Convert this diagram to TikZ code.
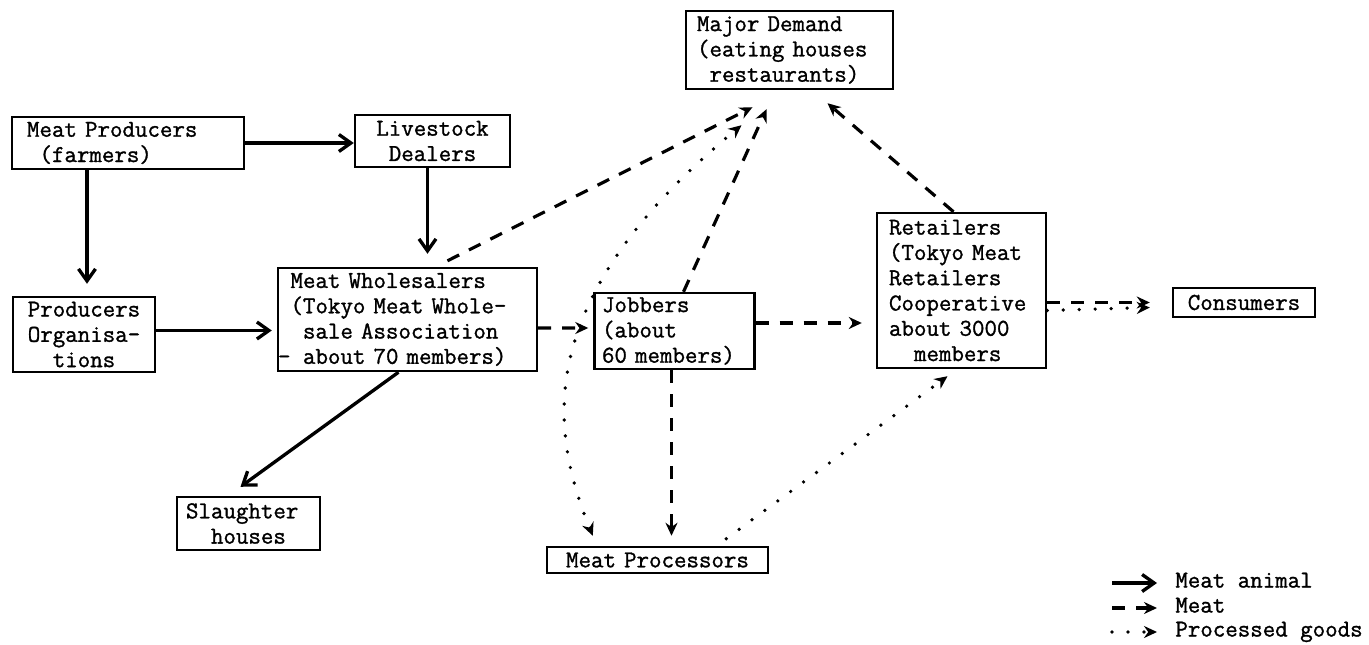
\documentclass[tikz,border=0pt]{standalone}
\usepackage{fontspec}
\setmonofont{Latin Modern Mono}[FakeBold=1.2]
\usetikzlibrary{arrows.meta,calc}

\begin{document}
\begin{tikzpicture}[x=0.02cm,y=-0.02cm,
    box/.style={draw,line width=1.4pt,inner ysep=0.03cm,
      font=\ttfamily\bfseries\fontsize{13.8}{14.4}\selectfont},
    legend/.style={anchor=west,inner xsep=0.1cm,text height=1.6ex,text depth=.4ex,
      font=\ttfamily\bfseries\fontsize{13.8}{14.4}\selectfont},
    gtip/.tip={Stealth[length=0.26cm,width=0.24cm]},
    animal/.style={line width=1.9pt,-{Straight Barb[length=0.24cm,width=0.34cm]}},
    meat/.style={line width=1.8pt,dash pattern=on 0.26cm off 0.22cm,-gtip},
    goods/.style={line width=2.1pt,line cap=round,dash pattern=on 0pt off 0.32cm,-gtip}]
      \useasboundingbox (0,0) rectangle (1369,645);
      \draw
        (128,143) node[box,text width=4.04cm,inner xsep=0.3cm,minimum height=1.04cm,align=left] (prod)
          {Meat Producers\\\phantom{x}(farmers)}
        (432.5,141) node[box,text width=2.5cm,inner xsep=0.3cm,minimum height=1.04cm,align=center] (live)
          {Livestock\\Dealers}
        (84,334.5) node[box,text width=2.4cm,inner xsep=0.22cm,minimum height=1.5cm,align=center] (porg)
          {Producers\\Organisa-\\tions}
        (407.5,319.5) node[box,text width=4.68cm,inner xsep=0.25cm,minimum height=2.06cm,align=left] (whole)
          {Meat Wholesalers\\(Tokyo Meat Whole-\\\phantom{x}sale Association\\\leavevmode\llap{-}\phantom{x}about 70 members)}
        (674.5,331) node[box,text width=2.9cm,inner xsep=0.15cm,minimum height=1.52cm,align=left] (job)
          {Jobbers\\(about\\60 members)}
        (789.5,50) node[box,text width=3.7cm,inner xsep=0.22cm,minimum height=1.56cm,align=left] (major)
          {Major Demand\\(eating houses\\\phantom{x}restaurants)}
        (961.5,290.5) node[box,text width=2.9cm,inner xsep=0.24cm,minimum height=3.1cm,align=left] (retail)
          {Retailers\\(Tokyo Meat\\Retailers\\Cooperative\\about 3000\\\phantom{xx}members}
        (1244,302.5) node[box,text width=2.44cm,inner xsep=0.2cm,minimum height=0.58cm,align=center] (cons)
          {Consumers}
        (248.5,523.5) node[box,text width=2.5cm,inner xsep=0.18cm,minimum height=1.06cm,align=left] (slaughter)
          {Slaughter\\\phantom{xx}houses}
        (657.5,560) node[box,text width=3.9cm,inner xsep=0.26cm,minimum height=0.52cm,align=center] (proc)
          {Meat Processors}
        (1170,583) node[legend] (lanimal) {Meat animal}
        (1170,608) node[legend] (lmeat) {Meat}
        (1170,632) node[legend] (lgoods) {Processed goods};
      \begin{scope}[animal]
        \draw (prod.east) -- (prod.east -| live.west);
        \draw ($(porg.north |- prod.south)+(3,0)$) -- ($(porg.north)+(3,-12)$);
        \draw ($(live.south)+(-5,0)$) -- ($(live.south |- whole.north)+(-5,-13)$);
        \draw ($(porg.east)+(0,-4)$) -- ($(porg.east -| whole.west)+(-5,-4)$);
        \draw ($(whole.south)+(-9,0)$) -- ($(slaughter.north)+(-8,-9)$);
        \draw ($(lanimal.west)+(-58,0)$) -- ($(lanimal.west)+(-13,0)$);
      \end{scope}
      \begin{scope}[meat]
        \draw ($(whole.east)+(0,8.5)$) -- ($(job.west)+(-5,-3)$);
        \draw ($(whole.north)+(40,-6)$) -- ($(major.south)+(-37,17)$);
        \draw ($(job.north)+(9,0)$) -- ($(major.south)+(-23,19)$);
        \draw ($(retail.north)+(-8,0)$) -- ($(major.south)+(38,13)$);
        \draw ($(job.east)+(0,-8)$) -- ($(job.east -| retail.west)+(-14,-8)$);
        \draw ($(job.south)+(-3,0)$) -- ($(job.south |- proc.north)+(-3,-10)$);
        \draw (retail.east |- cons.west) -- ($(cons.west)+(-22,0)$);
        \draw ($(lmeat.west)+(-58,0)$) -- ($(lmeat.west)+(-13,0)$);
      \end{scope}
      \begin{scope}[goods]
        \draw ($(retail.east |- cons.west)+(0,8)$) -- ($(cons.west)+(-22,5)$);
        \draw ($(proc.north east)+(-43,-7)$) -- ($(retail.south)+(-14,7)$);
        \draw[gtip-gtip] ($(proc.north west)+(47,-10)$) .. controls (550,430) and (530,300) .. ($(major.south)+(-48,35)$);
        \draw ($(lgoods.west)+(-58,0)$) -- ($(lgoods.west)+(-13,0)$);
      \end{scope}
    \end{tikzpicture}
\end{document}
